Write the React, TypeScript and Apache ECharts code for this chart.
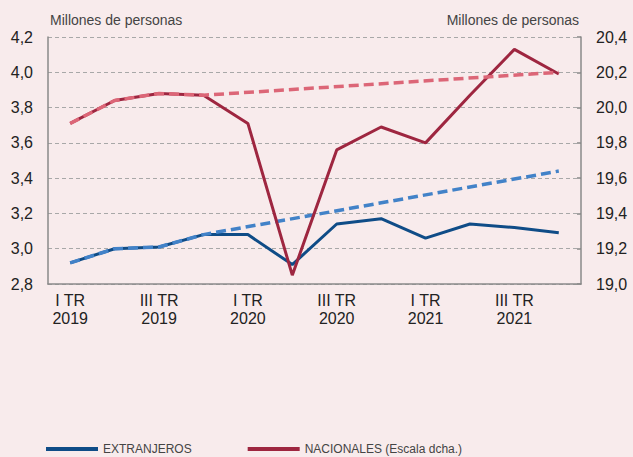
import React, { useEffect, useRef } from "react";
import * as echarts from "echarts";

const categories = [
  "I TR\n2019", "II TR\n2019", "III TR\n2019", "IV TR\n2019",
  "I TR\n2020", "II TR\n2020", "III TR\n2020", "IV TR\n2020",
  "I TR\n2021", "II TR\n2021", "III TR\n2021", "IV TR\n2021",
];
const extranjeros = [2.92, 3.0, 3.01, 3.08, 3.08, 2.91, 3.14, 3.17, 3.06, 3.14, 3.12, 3.09];
const extranjerosTrend = [2.92, 3.0, 3.01, 3.08, null, null, null, null, null, null, null, 3.44];
const nacionales = [19.91, 20.04, 20.08, 20.07, 19.91, 19.05, 19.76, 19.89, 19.8, 20.07, 20.33, 20.19];
const nacionalesTrend = [19.91, 20.04, 20.08, 20.07, null, null, null, null, null, null, null, 20.2];

const FONT = "'Liberation Sans Narrow', 'Liberation Sans', Arial, sans-serif";
const fmt = (v: number) => v.toFixed(1).replace(".", ",");

export default function App() {
  const ref = useRef<HTMLDivElement>(null);
  useEffect(() => {
    const chart = echarts.init(ref.current!, undefined, { renderer: "svg" });
    const axisLineStyle = { color: "#8a8a8a", width: 1.5 };
    chart.setOption({
      animation: false,
      backgroundColor: "#f8ebec",
      grid: { left: 48, right: 52, top: 37, bottom: 173 },
      legend: {
        top: 443,
        left: 46,
        itemGap: 56,
        itemWidth: 52,
        itemHeight: 4,
        icon: "rect",
        padding: 0,
        data: ["EXTRANJEROS", "NACIONALES (Escala dcha.)"],
        textStyle: { fontFamily: FONT, fontSize: 12, color: "#444" },
      },
      xAxis: {
        type: "category",
        data: categories,
        boundaryGap: true,
        axisLine: { lineStyle: axisLineStyle },
        axisTick: { inside: true, length: 5, interval: 0, lineStyle: { color: "#8a8a8a", width: 1.5 } },
        axisLabel: {
          interval: 1,
          fontFamily: FONT,
          fontSize: 16,
          color: "#222",
          lineHeight: 18,
          margin: 7,
        },
      },
      yAxis: [
        {
          type: "value",
          min: 2.8,
          max: 4.2,
          interval: 0.2,
          name: "Millones de personas",
          nameLocation: "end",
          nameGap: 10,
          nameTextStyle: { fontFamily: FONT, fontSize: 14, color: "#444", align: "left", padding: [0, 0, 0, 2] },
          axisLine: { show: true, lineStyle: axisLineStyle },
          axisTick: { show: false },
          axisLabel: { fontFamily: FONT, fontSize: 16, color: "#222", margin: 15, formatter: fmt },
          splitLine: { lineStyle: { color: "#a8a8a8", type: [4, 3], width: 1 } },
        },
        {
          type: "value",
          min: 19.0,
          max: 20.4,
          interval: 0.2,
          name: "Millones de personas",
          nameLocation: "end",
          nameGap: 10,
          nameTextStyle: { fontFamily: FONT, fontSize: 14, color: "#444", align: "right", padding: [0, 2, 0, 0] },
          axisLine: { show: true, lineStyle: axisLineStyle },
          axisTick: { show: true, inside: true, length: 4, lineStyle: { color: "#8a8a8a", width: 1.5 } },
          axisLabel: { fontFamily: FONT, fontSize: 16, color: "#222", margin: 15, formatter: fmt },
          splitLine: { show: false },
        },
      ],
      series: [
        {
          name: "EXTRANJEROS",
          type: "line",
          data: extranjeros,
          yAxisIndex: 0,
          symbol: "none",
          color: "#0f4c87",
          lineStyle: { color: "#0f4c87", width: 3 },
          z: 2,
        },
        {
          name: "ExtTrend",
          type: "line",
          data: extranjerosTrend,
          connectNulls: true,
          yAxisIndex: 0,
          symbol: "none",
          lineStyle: { color: "#4282c8", width: 3.5, type: [10, 5] },
          z: 3,
        },
        {
          name: "NACIONALES (Escala dcha.)",
          type: "line",
          data: nacionales,
          yAxisIndex: 1,
          symbol: "none",
          color: "#9e2640",
          lineStyle: { color: "#9e2640", width: 3 },
          z: 4,
        },
        {
          name: "NacTrend",
          type: "line",
          data: nacionalesTrend,
          connectNulls: true,
          yAxisIndex: 1,
          symbol: "none",
          lineStyle: { color: "#dc6677", width: 3.5, type: [10, 5] },
          z: 5,
        },
      ],
    });
    return () => chart.dispose();
  }, []);
  return <div ref={ref} style={{ width: 633, height: 457, position: "absolute", left: 0, top: 0 }} />;
}
